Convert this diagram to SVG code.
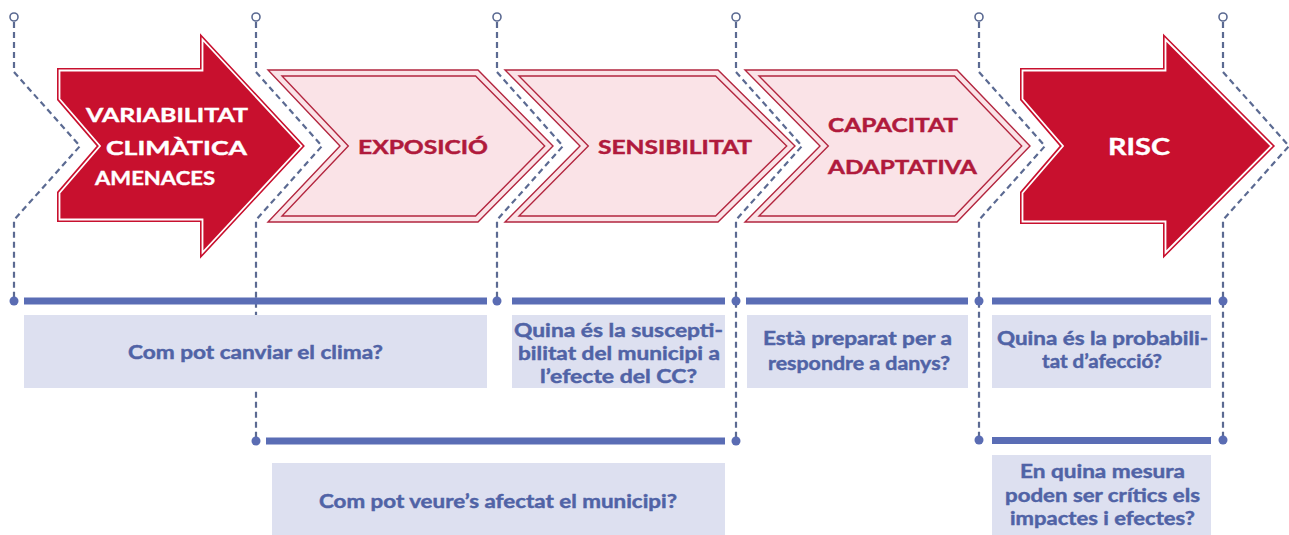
<svg xmlns="http://www.w3.org/2000/svg" width="1289" height="535" viewBox="0 0 1289 535">
<style>
.dash{fill:none;stroke:#5b6a92;stroke-width:2.2;stroke-dasharray:6 4}
.ring{fill:#fff;stroke:#5b6a92;stroke-width:1.6}
.dot{fill:#5a6cb3}
.bar{fill:#5a6db5}
.box{fill:#dde0f0}
.q{font-family:Lato,"Open Sans","Liberation Sans",sans-serif;font-weight:700;font-size:19px;fill:#5063a6;stroke:#5063a6;stroke-width:0.45}
.redfill{fill:#c8102e;stroke:#c8102e;stroke-width:5;stroke-linejoin:miter;stroke-miterlimit:10}
.redline{fill:none;stroke:#fff;stroke-width:1.8;stroke-linejoin:miter;stroke-miterlimit:10}
.pinkO{fill:#fae3e7;stroke:#b3263f;stroke-width:1.4;stroke-linejoin:miter}
.pinkI{fill:none;stroke:#b3263f;stroke-width:1.4;stroke-linejoin:miter}
.wt{font-family:Lato,"Open Sans","Liberation Sans",sans-serif;font-weight:700;font-size:19px;fill:#fff;stroke:#fff;stroke-width:0.4}
.rt{font-family:Lato,"Open Sans","Liberation Sans",sans-serif;font-weight:700;font-size:19px;fill:#b01a3c;stroke:#b01a3c;stroke-width:0.45}
</style>
<rect width="1289" height="535" fill="#fff"/>

<g id="connectors">
  <path class="dash" d="M14,22 V72 L80,146 L14,220 V297"/>
  <path class="dash" d="M256,22 V72 L322,146 L256,220 V437"/>
  <path class="dash" d="M497,22 V72 L563,146 L497,220 V297"/>
  <path class="dash" d="M736,22 V72 L802,146 L736,220 V437"/>
  <path class="dash" d="M979,22 V72 L1045,146 L979,220 V437"/>
  <path class="dash" d="M1223,22 V72 L1289,146 L1223,220 V437"/>
  <circle class="ring" cx="14" cy="17" r="4"/>
  <circle class="ring" cx="256" cy="17" r="4"/>
  <circle class="ring" cx="497" cy="17" r="4"/>
  <circle class="ring" cx="736" cy="17" r="4"/>
  <circle class="ring" cx="979" cy="17" r="4"/>
  <circle class="ring" cx="1223" cy="17" r="4"/>
  <rect class="bar" x="24" y="297.5" width="463" height="7"/>
  <rect class="bar" x="512" y="297.5" width="213" height="7"/>
  <rect class="bar" x="746" y="297.5" width="222" height="7"/>
  <rect class="bar" x="992" y="297.5" width="219" height="7"/>
  <rect class="bar" x="266" y="437.5" width="459" height="7"/>
  <rect class="bar" x="992" y="437" width="219" height="7"/>
  <circle class="dot" cx="14" cy="301" r="4.5"/>
  <circle class="dot" cx="497" cy="301" r="4.5"/>
  <circle class="dot" cx="736" cy="301" r="4.5"/>
  <circle class="dot" cx="979" cy="301" r="4.5"/>
  <circle class="dot" cx="1223" cy="301" r="4.5"/>
  <circle class="dot" cx="256" cy="441" r="4.5"/>
  <circle class="dot" cx="736" cy="441" r="4.5"/>
  <circle class="dot" cx="979" cy="440" r="4.5"/>
  <circle class="dot" cx="1223" cy="440" r="4.5"/>
</g>

<g id="variabilitat">
  <path class="redfill" d="M59.5,70.5 H202.5 V39.5 L301.5,146 L202.5,252.5 V219.5 H59.5 V193 L100,146 L59.5,99 Z"/>
  <path class="redline" d="M59.5,70.5 H202.5 V39.5 L301.5,146 L202.5,252.5 V219.5 H59.5 V193 L100,146 L59.5,99 Z"/>
  <text class="wt" x="86" y="122" textLength="162" lengthAdjust="spacingAndGlyphs">VARIABILITAT</text>
  <text class="wt" x="106" y="155" textLength="141" lengthAdjust="spacingAndGlyphs">CLIMÀTICA</text>
  <text class="wt" x="95" y="185" textLength="120" lengthAdjust="spacingAndGlyphs">AMENACES</text>
</g>

<g id="exposicio">
  <path class="pinkO" d="M268,70 H478 L553,146 L478,222 H268 L340,146 Z"/>
  <path class="pinkI" d="M282,76 H475.6 L544.7,146 L475.6,216 H282 L348.3,146 Z"/>
  <text class="rt" x="358" y="154" textLength="130" lengthAdjust="spacingAndGlyphs">EXPOSICIÓ</text>
</g>

<g id="sensibilitat">
  <path class="pinkO" d="M505,70 H718 L795,146 L718,222 H505 L580,146 Z"/>
  <path class="pinkI" d="M519,76 H715.6 L786.7,146 L715.6,216 H519 L588.3,146 Z"/>
  <text class="rt" x="598" y="154" textLength="154" lengthAdjust="spacingAndGlyphs">SENSIBILITAT</text>
</g>

<g id="capacitat">
  <path class="pinkO" d="M745,70 H957 L1030,146 L957,222 H745 L820,146 Z"/>
  <path class="pinkI" d="M759,76 H954.6 L1021.7,146 L954.6,216 H759 L828.3,146 Z"/>
  <text class="rt" x="828" y="132" textLength="130" lengthAdjust="spacingAndGlyphs">CAPACITAT</text>
  <text class="rt" x="828" y="174" textLength="149" lengthAdjust="spacingAndGlyphs">ADAPTATIVA</text>
</g>

<g id="risc">
  <path class="redfill" d="M1022.5,70.5 H1165.5 V39.5 L1271.5,146 L1165.5,252.5 V221.5 H1022.5 V193 L1063,146 L1022.5,99 Z"/>
  <path class="redline" d="M1022.5,70.5 H1165.5 V39.5 L1271.5,146 L1165.5,252.5 V221.5 H1022.5 V193 L1063,146 L1022.5,99 Z"/>
  <text class="wt" x="1108" y="155" style="font-size:23px" textLength="62" lengthAdjust="spacingAndGlyphs">RISC</text>
</g>

<g id="q-clima">
  <rect class="box" x="24" y="315" width="463" height="73"/>
  <text class="q" x="128" y="359" textLength="255" lengthAdjust="spacingAndGlyphs">Com pot canviar el clima?</text>
</g>

<g id="q-susceptibilitat">
  <rect class="box" x="512" y="315" width="213" height="73"/>
  <text class="q" x="514" y="337" textLength="209" lengthAdjust="spacingAndGlyphs">Quina és la suscepti-</text>
  <text class="q" x="518" y="360" textLength="202" lengthAdjust="spacingAndGlyphs">bilitat del municipi a</text>
  <text class="q" x="540" y="383" textLength="157" lengthAdjust="spacingAndGlyphs">l’efecte del CC?</text>
</g>

<g id="q-preparat">
  <rect class="box" x="747" y="315" width="221" height="73"/>
  <text class="q" x="763" y="345" textLength="189" lengthAdjust="spacingAndGlyphs">Està preparat per a</text>
  <text class="q" x="768" y="370" textLength="182" lengthAdjust="spacingAndGlyphs">respondre a danys?</text>
</g>

<g id="q-probabilitat">
  <rect class="box" x="992" y="315" width="219" height="73"/>
  <text class="q" x="997" y="345" textLength="211" lengthAdjust="spacingAndGlyphs">Quina és la probabili-</text>
  <text class="q" x="1042" y="368" textLength="120" lengthAdjust="spacingAndGlyphs">tat d’afecció?</text>
</g>

<g id="q-critics">
  <rect class="box" x="992" y="455" width="219" height="80"/>
  <text class="q" x="1020" y="478" textLength="165" lengthAdjust="spacingAndGlyphs">En quina mesura</text>
  <text class="q" x="1005" y="502" textLength="195" lengthAdjust="spacingAndGlyphs">poden ser crítics els</text>
  <text class="q" x="1010" y="525" textLength="185" lengthAdjust="spacingAndGlyphs">impactes i efectes?</text>
</g>

<g id="q-afectat">
  <rect class="box" x="272" y="463" width="453" height="72"/>
  <text class="q" x="319" y="508" textLength="358" lengthAdjust="spacingAndGlyphs">Com pot veure’s afectat el municipi?</text>
</g>
</svg>
